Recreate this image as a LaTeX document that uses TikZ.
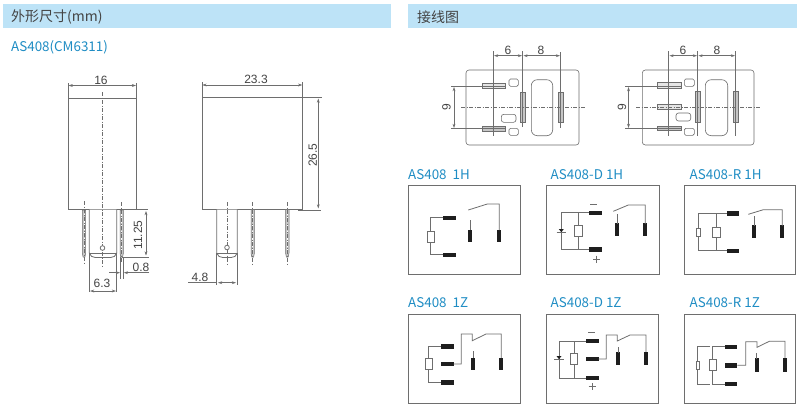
\documentclass[tikz,border=0pt]{standalone}
\usepackage{fontspec}
\setmainfont{Liberation Sans}
\newfontfamily\cjk{Noto Sans CJK SC}
\usetikzlibrary{arrows.meta}
\definecolor{hdr}{HTML}{BDE3F7}
\definecolor{ttl}{HTML}{1F8DC4}
\definecolor{ln}{HTML}{6E6E6E}
\definecolor{hdt}{HTML}{444444}
\definecolor{blk}{HTML}{1E1E1E}
\tikzset{
 x=1pt,y=-1pt,
 line width=0.7pt,
 body/.style={draw=ln,line width=0.8pt},
 thin line/.style={draw=ln,line width=0.55pt},
 dimline/.style={draw=ln,line width=0.55pt,{Stealth[length=4.2pt,width=2.8pt]}-{Stealth[length=4.2pt,width=2.8pt]}},
 dimone/.style={draw=ln,line width=0.55pt,-{Stealth[length=4.2pt,width=2.8pt]}},
 center line/.style={draw=ln,line width=0.55pt,dash pattern=on 4pt off 1.5pt on 1pt off 1.5pt},
 dimtext/.style={text=hdt,font=\fontsize{12}{12}\selectfont,inner sep=0pt},
 headtext/.style={text=hdt,font=\cjk\fontsize{14}{15}\selectfont,anchor=west,inner sep=0pt},
 titletext/.style={text=ttl,font=\cjk\fontsize{13.4}{14}\selectfont,anchor=west,inner sep=0pt},
 frame/.style={draw=ln,line width=1pt},
 wire/.style={draw=ln,line width=0.8pt},
 term/.style={fill=blk,draw=none},
 coil/.style={draw=ln,line width=0.8pt,fill=white},
 pinfill/.style={draw=ln,line width=0.5pt,fill=gray!45},
 lay/.style={draw=ln,line width=0.6pt,fill=white},
 layp/.style={draw=ln,line width=0.6pt,fill=gray!20},
 layg/.style={draw=ln,line width=0.6pt,fill=gray!45},
 sign/.style={draw=ln,line width=0.7pt},
}
\newcommand{\pinv}[3]{% center x, top y, bottom y
 \path[pinfill] (#1-1.7,#2) -- (#1+1.7,#2) -- (#1+1.7,#3) -- (#1+0.9,#3+4) -- (#1-0.9,#3+4) -- (#1-1.7,#3) -- cycle;
 \draw[white,line width=0.8pt,dash pattern=on 2pt off 1.5pt] (#1,#2) -- (#1,#3);
}
\newcommand{\hterm}[3]{\fill[term] (#1,#3) rectangle (#2,#3+4.3);}
\newcommand{\vterm}[3]{\fill[term] (#1-2.1,#2) rectangle (#1+2.1,#3);}
\newcommand{\blade}[3]{% left, right, ystart
 \draw[body,fill=white] (#1,#3) -- (#1,253) .. controls (#1+1,256) and (#1+3,257.5) .. (#1+6,257.5) -- (#2-6,257.5) .. controls (#2-3,257.5) and (#2-1,256) .. (#2,253) -- (#2,#3);
 \draw[body] (#1,253) -- (#2,253);
}
\newcommand{\diode}[2]{% x, top y of triangle
 \fill[blk] (#1-2.5,#2) -- (#1+2.5,#2) -- (#1,#2+3.2) -- cycle;
 \draw[wire] (#1-4.7,#2+3.6) -- (#1+4.7,#2+3.6);
}
\begin{document}
\begin{tikzpicture}
\useasboundingbox (0,0) rectangle (800,408);
\fill[white] (0,0) rectangle (800,408);
% headers
\fill[hdr] (3,4) rectangle (391,28);
\fill[hdr] (408,4) rectangle (797,28);
\node[headtext] (h1) at (11,17) {外形尺寸(mm)};
\node[headtext] (h2) at (417,17) {接线图};
\node[titletext] (t0) at (11,47) {AS408(CM6311)};

% front view
\draw[body] (68.5,98) rectangle (136,209.7);
\draw[thin line] (68.5,83) -- (68.5,98) (136,83) -- (136,98);
\draw[dimline] (68.5,85.5) -- (136,85.5);
\node[dimtext] (d16) at (101,80) {16};
\blade{89.3}{116.7}{209.7}
\draw[thin line] (89.3,253) -- (89.3,292) (116.7,253) -- (116.7,292);
\draw[center line] (102.5,92) -- (102.5,266);
\draw[body,fill=white] (102.5,248) circle (2.3);
\pinv{84}{210}{253}
\draw[center line] (84,201) -- (84,263);
\pinv{121.7}{210}{253}
\draw[center line] (121.7,202) -- (121.7,263);
\draw[thin line] (120.3,257) -- (120.3,279) (123.3,257) -- (123.3,279);
\draw[thin line] (136,209.7) -- (148,209.7) (122,257) -- (149,257);
\draw[dimline] (146,211) -- (146,255.5);
\node[dimtext,rotate=90] (d1125) at (138,235) {11.25};
\node[dimtext] (d08) at (141,267) {0.8};
\draw[dimone] (149,272.7) -- (123.8,272.7);
\draw[dimone] (109,272.7) -- (120,272.7);
\node[dimtext] (d63) at (102,283) {6.3};
\draw[dimline] (90,291) -- (116,291);

% side view
\draw[body] (202.3,97.7) rectangle (302.3,209.5);
\draw[thin line] (202.3,82) -- (202.3,97.7) (302.3,82) -- (302.3,97.7);
\draw[dimline] (202.3,85) -- (302.3,85);
\node[dimtext] (d233) at (256,79) {23.3};
\draw[thin line] (302.3,97.7) -- (321.7,97.7) (298,210) -- (321,210);
\draw[dimline] (318.3,98.5) -- (318.3,208.5);
\node[dimtext,rotate=90] (d265) at (312.7,155) {26.5};
\blade{216.7}{237.3}{209.5}
\draw[thin line] (216.7,253) -- (216.7,285) (237.3,253) -- (237.3,285);
\draw[center line] (227,202) -- (227,265);
\draw[body,fill=white] (227,247.5) circle (2.3);
\pinv{252.7}{209.5}{253}
\draw[center line] (252.7,202) -- (252.7,265);
\pinv{287.3}{209.5}{253}
\draw[center line] (287.3,202) -- (287.3,265);
\node[dimtext] (d48) at (200,277) {4.8};
\draw[thin line] (188,282.3) -- (216.7,282.3);
\draw[dimline] (218,282.7) -- (236,282.7);

% footprint 1
\draw[lay,rounded corners=3pt] (466,70) rectangle (579,145);
\draw[layp] (482.3,83.3) rectangle (505.7,88.7);
\draw[layg] (482.3,126) rectangle (505.7,131);
\draw[thin line] (451,86) -- (506,86) (451,128.7) -- (506,128.7);
\draw[lay,rounded corners=1.5pt] (509,79) rectangle (518.3,86.3);
\draw[lay,rounded corners=1.5pt] (509,128.3) rectangle (518.3,135.3);
\draw[lay,rounded corners=2.5pt] (501.3,114.3) rectangle (516,122.3);
\draw[lay,rounded corners=6pt] (531.3,79.7) rectangle (552.7,135.7);
\draw[layg] (520.3,92) rectangle (525.3,122.3);
\draw[layg] (558.7,92) rectangle (563.3,122.3);
\draw[thin line] (493.3,51) -- (493.3,136) (522.7,51) -- (522.7,127) (560.7,52) -- (560.7,128);
\draw[center line] (461,107.3) -- (585,107.3);
\draw[dimline] (494,55.7) -- (522,55.7);
\draw[dimline] (523.4,55.7) -- (560,55.7);
\node[dimtext] (f1a) at (508,50) {6};
\node[dimtext] (f1b) at (541,50) {8};
\draw[dimline] (454,87) -- (454,128);
\node[dimtext,rotate=90] (f1c) at (446.5,107.3) {9};

% footprint 2
\draw[lay,rounded corners=3pt] (642.3,70) rectangle (754,145);
\draw[layp] (657.3,82.7) rectangle (681.3,88);
\draw[layp] (657.3,104.7) rectangle (681.3,109.3);
\draw[layg] (657.3,126) rectangle (681.3,130.7);
\draw[thin line] (625,86) -- (681,86) (625,128.7) -- (681,128.7);
\draw[lay,rounded corners=1.5pt] (684.3,79) rectangle (694.3,86.3);
\draw[lay,rounded corners=1.5pt] (684.3,128.3) rectangle (694.3,135.3);
\draw[lay,rounded corners=2.5pt] (676,113) rectangle (690.7,121);
\draw[lay,rounded corners=6pt] (705.3,79.7) rectangle (727.7,135.7);
\draw[layg] (695.3,91.5) rectangle (700,122);
\draw[layg] (733.3,91.5) rectangle (738,122);
\draw[thin line] (668.7,51) -- (668.7,136) (697.7,51) -- (697.7,136) (735.7,51) -- (735.7,136);
\draw[center line] (636,107) -- (760,107);
\draw[dimline] (669.4,55.7) -- (697,55.7);
\draw[dimline] (698.4,55.7) -- (735,55.7);
\node[dimtext] (f2a) at (683,50) {6};
\node[dimtext] (f2b) at (717,50) {8};
\draw[dimline] (628.5,87) -- (628.5,128);
\node[dimtext,rotate=90] (f2c) at (622,107) {9};

% AS408 1H
\node[titletext] (t1) at (408,175) {AS408\ \ 1H};
\draw[frame] (408.7,185.3) rectangle (520,274);
\draw[wire] (443,217.7) -- (430.8,217.7) -- (430.8,254.8) -- (443,254.8);
\draw[coil] (427,231.3) rectangle (434.7,242);
\hterm{442.7}{456}{216}
\hterm{442.7}{456}{252.8}
\vterm{470.3}{229.7}{241.7}
\vterm{499.3}{229.7}{241.7}
\draw[wire] (470.3,220) -- (470.3,230);
\draw[wire] (468.3,210) -- (487.3,204) -- (499.3,204) -- (499.3,230);

% AS408-D 1H
\node[titletext] (t2) at (550.5,175) {AS408-D\ 1H};
\draw[frame] (546.7,185.3) rectangle (659,274);
\draw[wire] (589.5,212.5) -- (561.3,212.5) -- (561.3,249.5) -- (589.5,249.5);
\draw[wire] (578,212.5) -- (578,249.5);
\draw[coil] (574.3,225.7) rectangle (582,236.7);
\diode{561.3}{229}
\hterm{589.3}{602}{210.5}
\hterm{589.3}{602}{247.4}
\draw[sign] (590,204.3) -- (597.3,204.3);
\draw[sign] (593,259.3) -- (600.4,259.3) (596.7,255.6) -- (596.7,263);
\vterm{617.2}{223.3}{236.3}
\vterm{645.2}{223.3}{236.3}
\draw[wire] (617.2,214.3) -- (617.2,224);
\draw[wire] (613.3,211.3) -- (628.3,205) -- (645.2,205) -- (645.2,224);

% AS408-R 1H
\node[titletext] (t3) at (689.5,175) {AS408-R\ 1H};
\draw[frame] (684.7,185.7) rectangle (795.7,274);
\draw[wire] (728,213.5) -- (698.3,213.5) -- (698.3,250.5) -- (728,250.5);
\draw[wire] (716.3,213.5) -- (716.3,250.5);
\draw[coil] (696.3,228.3) rectangle (700.3,236.7);
\draw[coil] (712.7,227) rectangle (720,237.7);
\hterm{727.3}{739.3}{211.4}
\hterm{727.3}{739.3}{248.5}
\vterm{754}{225.3}{237.7}
\vterm{782.3}{225.3}{237.7}
\draw[wire] (754,216) -- (754,226);
\draw[wire] (748.3,214.3) -- (763.3,209.7) -- (782.3,209.7) -- (782.3,226);

% AS408 1Z
\node[titletext] (t4) at (408,302.5) {AS408\ \ 1Z};
\draw[frame] (408.7,314.3) rectangle (520,403.7);
\draw[wire] (441,346.3) -- (428.7,346.3) -- (428.7,382.3) -- (441,382.3);
\draw[coil] (425,358.3) rectangle (432.3,369.3);
\hterm{440.7}{453.7}{344.2}
\hterm{440.7}{453.7}{361.9}
\hterm{440.7}{453.7}{380.2}
\draw[wire] (453.7,364) -- (461.3,364) -- (461.3,334) -- (472.3,334) -- (472.3,340.7) -- (486,334) -- (501.2,334) -- (501.2,358);
\vterm{473}{357.7}{370.3}
\vterm{501.2}{357.7}{370.3}
\draw[wire] (473,351) -- (473,358);

% AS408-D 1Z
\node[titletext] (t5) at (550.5,302.5) {AS408-D\ 1Z};
\draw[frame] (546.7,314.3) rectangle (658.3,403.7);
\draw[wire] (586.3,341) -- (559,341) -- (559,378) -- (586.3,378);
\draw[wire] (574,341) -- (574,378);
\draw[coil] (570.3,353.3) rectangle (577.7,364.3);
\diode{559}{356}
\hterm{586}{598.7}{338.9}
\hterm{586}{598.7}{356.9}
\hterm{586}{598.7}{375.9}
\draw[sign] (588,332.7) -- (595.3,332.7);
\draw[sign] (588.6,386.7) -- (596,386.7) (592.3,383) -- (592.3,390.4);
\draw[wire] (598.7,359) -- (606.3,359) -- (606.3,335) -- (617.3,335) -- (617.3,341) -- (630,335) -- (646,335) -- (646,353);
\vterm{618}{352.3}{365.3}
\vterm{646}{352.3}{365.3}
\draw[wire] (618,347.3) -- (618,353);

% AS408-R 1Z
\node[titletext] (t6) at (689.5,302.5) {AS408-R\ 1Z};
\draw[frame] (684.7,314.7) rectangle (795.7,403.7);
\draw[wire] (710,346.7) -- (697.7,346.7) -- (697.7,384.3) -- (710,384.3);
\draw[wire] (725,346.7) -- (712.7,346.7) -- (712.7,384.3) -- (725,384.3);
\draw[coil] (696,361) rectangle (699.7,369.3);
\draw[coil] (709,359.3) rectangle (716.3,370.3);
\hterm{724.7}{737.3}{344.7}
\hterm{724.7}{737.3}{363.2}
\hterm{724.7}{737.3}{382}
\draw[wire] (737.3,365.3) -- (745.7,365.3) -- (745.7,341.7) -- (757,341.7) -- (757,347.3) -- (769.3,341.3) -- (785,341.3) -- (785,358.5);
\vterm{756.7}{358.3}{371.7}
\vterm{785}{358.3}{371.7}
\draw[wire] (756.7,353.3) -- (756.7,359);
\end{tikzpicture}
\end{document}
